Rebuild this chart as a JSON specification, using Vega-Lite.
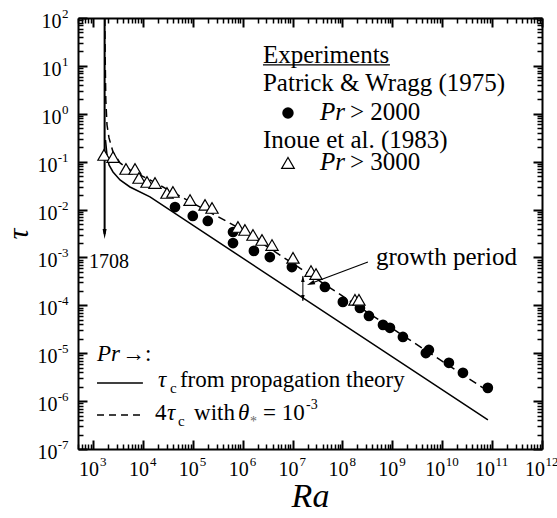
{
"$schema": "https://vega.github.io/schema/vega-lite/v6.json",
"width": 464, "height": 431,
"autosize": "none",
"padding": {"left": 78, "top": 18, "right": 15, "bottom": 69},
"background": "white",
"config": {"view": {"stroke": null}, "font": "Liberation Serif",
  "axis": {"grid": false, "tickColor": "black", "domainColor": "black", "labelColor": "black", "titleColor": "black", "labelFont": "Liberation Serif", "titleFont": "Liberation Serif", "titleFontWeight": "normal", "labelFlush": false, "labelOverlap": false, "labelBound": false}},
"resolve": {"axis": {"x": "independent", "y": "independent"}},
"layer": [
 {"data": {"values": [{"ra":1781,"tau":0.284},{"ra":1908,"tau":0.138},{"ra":2092,"tau":0.0853},{"ra":2517,"tau":0.061},{"ra":3475,"tau":0.0415},{"ra":5508,"tau":0.0296},{"ra":13870,"tau":0.01833},{"ra":82400000000,"tau":4.05e-7}]},
  "mark": {"type": "line", "color": "black", "strokeWidth": 1.5},
  "encoding": {
   "x": {"field": "ra", "type": "quantitative", "scale": {"type": "log", "domain": [500, 1e12], "nice": false},
     "axis": {"orient": "bottom", "values": [1e3,1e4,1e5,1e6,1e7,1e8,1e9,1e10,1e11,1e12], "tickSize": -9, "tickWidth": 2, "labels": false, "domain": true, "domainWidth": 2, "title": null}},
   "y": {"field": "tau", "type": "quantitative", "scale": {"type": "log", "domain": [1e-7, 100], "nice": false},
     "axis": {"orient": "left", "values": [1e-7,1e-6,1e-5,1e-4,1e-3,1e-2,1e-1,1,10,100], "tickSize": -9, "tickWidth": 2, "labels": false, "domain": true, "domainWidth": 2, "title": null}}
  }},
 {"data": {"values": [{"ra":1724,"tau":100},{"ra":1756,"tau":13.3},{"ra":1805,"tau":1.94},{"ra":1908,"tau":0.583},{"ra":2092,"tau":0.313},{"ra":2517,"tau":0.16},{"ra":3475,"tau":0.094},{"ra":5508,"tau":0.0671},{"ra":13870,"tau":0.0415},{"ra":769000,"tau":0.00433},{"ra":65500000000,"tau":1.89e-6}]},
  "mark": {"type": "line", "color": "black", "strokeWidth": 1.5, "strokeDash": [8, 5]},
  "encoding": {
   "x": {"field": "ra", "type": "quantitative", "scale": {"type": "log", "domain": [500, 1e12], "nice": false},
     "axis": {"orient": "top", "values": [1e3,1e4,1e5,1e6,1e7,1e8,1e9,1e10,1e11,1e12], "tickSize": -9, "tickWidth": 2, "labels": false, "domain": true, "domainWidth": 2, "title": null}},
   "y": {"field": "tau", "type": "quantitative", "scale": {"type": "log", "domain": [1e-7, 100], "nice": false},
     "axis": {"orient": "right", "values": [1e-7,1e-6,1e-5,1e-4,1e-3,1e-2,1e-1,1,10,100], "tickSize": -9, "tickWidth": 2, "labels": false, "domain": true, "domainWidth": 2, "title": null}}
  }},
 {"data": {"values": [{"ra":1708,"tau":100,"tau2":0.0031}]},
  "mark": {"type": "rule", "color": "black", "strokeWidth": 2},
  "encoding": {
   "x": {"field": "ra", "type": "quantitative", "scale": {"type": "log", "domain": [500, 1e12], "nice": false},
     "axis": {"orient": "bottom", "values": [500,600,700,800,900,2e3,3e3,4e3,5e3,6e3,7e3,8e3,9e3,2e4,3e4,4e4,5e4,6e4,7e4,8e4,9e4,2e5,3e5,4e5,5e5,6e5,7e5,8e5,9e5,2e6,3e6,4e6,5e6,6e6,7e6,8e6,9e6,2e7,3e7,4e7,5e7,6e7,7e7,8e7,9e7,2e8,3e8,4e8,5e8,6e8,7e8,8e8,9e8,2e9,3e9,4e9,5e9,6e9,7e9,8e9,9e9,2e10,3e10,4e10,5e10,6e10,7e10,8e10,9e10,2e11,3e11,4e11,5e11,6e11,7e11,8e11,9e11], "tickSize": -5, "tickWidth": 1.5, "labels": false, "domain": false, "title": null}},
   "y": {"field": "tau", "type": "quantitative", "scale": {"type": "log", "domain": [1e-7, 100], "nice": false},
     "axis": {"orient": "left", "values": [2e-7,3e-7,4e-7,5e-7,6e-7,7e-7,8e-7,9e-7,2e-6,3e-6,4e-6,5e-6,6e-6,7e-6,8e-6,9e-6,2e-5,3e-5,4e-5,5e-5,6e-5,7e-5,8e-5,9e-5,2e-4,3e-4,4e-4,5e-4,6e-4,7e-4,8e-4,9e-4,2e-3,3e-3,4e-3,5e-3,6e-3,7e-3,8e-3,9e-3,0.02,0.03,0.04,0.05,0.06,0.07,0.08,0.09,0.2,0.3,0.4,0.5,0.6,0.7,0.8,0.9,2,3,4,5,6,7,8,9,20,30,40,50,60,70,80,90], "tickSize": -5, "tickWidth": 1.5, "labels": false, "domain": false, "title": null}},
   "y2": {"field": "tau2"}
  }},
 {"data": {"values": [{"ra":44000,"tau":0.0113},{"ra":100000,"tau":0.00735},{"ra":200000,"tau":0.00578},{"ra":640000,"tau":0.0034},{"ra":640000,"tau":0.002},{"ra":1680000,"tau":0.00137},{"ra":3500000,"tau":0.00102},{"ra":9700000,"tau":0.00063},{"ra":44500000,"tau":0.000242},{"ra":102000000,"tau":0.000118},{"ra":224000000,"tau":0.000088},{"ra":340000000,"tau":0.00006},{"ra":650000000,"tau":0.000039},{"ra":895000000,"tau":0.000034},{"ra":1630000000,"tau":0.0000219},{"ra":4700000000,"tau":0.0000101},{"ra":5400000000,"tau":0.0000117},{"ra":13600000000,"tau":0.0000063},{"ra":26000000000,"tau":0.0000039},{"ra":82000000000,"tau":0.00000189}]},
  "mark": {"type": "point", "shape": "circle", "filled": true, "color": "black", "size": 115, "opacity": 1},
  "encoding": {
   "x": {"field": "ra", "type": "quantitative", "scale": {"type": "log", "domain": [500, 1e12], "nice": false},
     "axis": {"orient": "top", "values": [500,600,700,800,900,2e3,3e3,4e3,5e3,6e3,7e3,8e3,9e3,2e4,3e4,4e4,5e4,6e4,7e4,8e4,9e4,2e5,3e5,4e5,5e5,6e5,7e5,8e5,9e5,2e6,3e6,4e6,5e6,6e6,7e6,8e6,9e6,2e7,3e7,4e7,5e7,6e7,7e7,8e7,9e7,2e8,3e8,4e8,5e8,6e8,7e8,8e8,9e8,2e9,3e9,4e9,5e9,6e9,7e9,8e9,9e9,2e10,3e10,4e10,5e10,6e10,7e10,8e10,9e10,2e11,3e11,4e11,5e11,6e11,7e11,8e11,9e11], "tickSize": -5, "tickWidth": 1.5, "labels": false, "domain": false, "title": null}},
   "y": {"field": "tau", "type": "quantitative", "scale": {"type": "log", "domain": [1e-7, 100], "nice": false},
     "axis": {"orient": "right", "values": [2e-7,3e-7,4e-7,5e-7,6e-7,7e-7,8e-7,9e-7,2e-6,3e-6,4e-6,5e-6,6e-6,7e-6,8e-6,9e-6,2e-5,3e-5,4e-5,5e-5,6e-5,7e-5,8e-5,9e-5,2e-4,3e-4,4e-4,5e-4,6e-4,7e-4,8e-4,9e-4,2e-3,3e-3,4e-3,5e-3,6e-3,7e-3,8e-3,9e-3,0.02,0.03,0.04,0.05,0.06,0.07,0.08,0.09,0.2,0.3,0.4,0.5,0.6,0.7,0.8,0.9,2,3,4,5,6,7,8,9,20,30,40,50,60,70,80,90], "tickSize": -5, "tickWidth": 1.5, "labels": false, "domain": false, "title": null}}
  }},
 {"data": {"values": [{"ra":1660,"tau":0.138},{"ra":2518,"tau":0.125},{"ra":4580,"tau":0.0705},{"ra":6950,"tau":0.0705},{"ra":8360,"tau":0.0457},{"ra":12100,"tau":0.0377},{"ra":17500,"tau":0.0359},{"ra":30400,"tau":0.0222},{"ra":40000,"tau":0.0233},{"ra":88000,"tau":0.0158},{"ra":176000,"tau":0.0125},{"ra":243000,"tau":0.0108},{"ra":805000,"tau":0.00433},{"ra":1110000,"tau":0.00375},{"ra":1610000,"tau":0.00295},{"ra":2440000,"tau":0.00232},{"ra":3870000,"tau":0.00182},{"ra":10200000,"tau":0.00098},{"ra":23400000,"tau":0.00052},{"ra":29500000,"tau":0.00045},{"ra":178000000,"tau":0.00013},{"ra":214000000,"tau":0.00013}]},
  "mark": {"type": "point", "shape": "triangle-up", "filled": true, "fill": "white", "stroke": "black", "strokeWidth": 1.2, "size": 150, "opacity": 1},
  "encoding": {
   "x": {"field": "ra", "type": "quantitative", "scale": {"type": "log", "domain": [500, 1e12], "nice": false},
     "axis": {"orient": "bottom", "values": [1e3,1e4,1e5,1e6,1e7,1e8,1e9,1e10,1e11,1e12], "ticks": false, "domain": false, "labelExpr": "'10'", "labelFontSize": 20, "labelAlign": "center", "labelBaseline": "alphabetic", "labelPadding": 26, "labelOffset": {"condition": {"test": "datum.value >= 1e10", "value": -7.5}, "value": -4.5}, "title": "Ra", "titleFontStyle": "italic", "titleFontSize": 34, "titlePadding": 0}},
   "y": {"field": "tau", "type": "quantitative", "scale": {"type": "log", "domain": [1e-7, 100], "nice": false},
     "axis": {"orient": "left", "values": [1e-7,1e-6,1e-5,1e-4,1e-3,1e-2,1e-1,1,10,100], "ticks": false, "domain": false, "labelExpr": "'10'", "labelFontSize": 20, "labelAlign": "right", "labelBaseline": "alphabetic", "labelOffset": 9.5, "labelPadding": {"condition": {"test": "datum.value < 0.5", "value": 21}, "value": 17}, "title": "τ", "titleFontStyle": "italic", "titleFontSize": 30, "titlePadding": 4}}
  }},
 {"data": {"values": [{"ra":1708,"tau":0.0031}]},
  "mark": {"type": "point", "shape": "M-0.4,-1L0.4,-1L0,1Z", "filled": true, "color": "black", "size": 100, "opacity": 1},
  "encoding": {
   "x": {"field": "ra", "type": "quantitative", "scale": {"type": "log", "domain": [500, 1e12], "nice": false},
     "axis": {"orient": "bottom", "values": [1e3,1e4,1e5,1e6,1e7,1e8,1e9,1e10,1e11,1e12], "ticks": false, "domain": false, "labelExpr": "'' + round(log(datum.value)/LN10)", "labelFontSize": 13, "labelAlign": "left", "labelBaseline": "alphabetic", "labelPadding": 16, "labelOffset": {"condition": {"test": "datum.value >= 1e10", "value": 3}, "value": 6.5}, "title": null}},
   "y": {"field": "tau", "type": "quantitative", "scale": {"type": "log", "domain": [1e-7, 100], "nice": false},
     "axis": {"orient": "left", "values": [1e-7,1e-6,1e-5,1e-4,1e-3,1e-2,1e-1,1,10,100], "ticks": false, "domain": false, "labelExpr": "'' + round(log(datum.value)/LN10)", "labelFontSize": 13, "labelAlign": "right", "labelBaseline": "alphabetic", "labelOffset": -0.5, "labelPadding": 10, "title": null}}
  }},
 {"data": {"values": [{"ra":324000000,"tau":0.000805,"ra2":23100000,"tau2":0.000285}]},
  "mark": {"type": "rule", "color": "black", "strokeWidth": 1.2},
  "encoding": {
   "x": {"field": "ra", "type": "quantitative", "scale": {"type": "log", "domain": [500, 1e12], "nice": false}, "axis": null},
   "y": {"field": "tau", "type": "quantitative", "scale": {"type": "log", "domain": [1e-7, 100], "nice": false}, "axis": null},
   "x2": {"field": "ra2"}, "y2": {"field": "tau2"}
  }},
 {"data": {"values": [{"ra":23100000,"tau":0.000285}]},
  "mark": {"type": "point", "shape": "M-0.6,-1L0.6,-1L0,1Z", "filled": true, "color": "black", "size": 64, "angle": 69, "opacity": 1},
  "encoding": {
   "x": {"field": "ra", "type": "quantitative", "scale": {"type": "log", "domain": [500, 1e12], "nice": false}, "axis": null},
   "y": {"field": "tau", "type": "quantitative", "scale": {"type": "log", "domain": [1e-7, 100], "nice": false}, "axis": null}
  }},
 {"data": {"values": [{"ra":16100000,"tau":0.000411,"tau2":0.000124}]},
  "mark": {"type": "rule", "color": "black", "strokeWidth": 1},
  "encoding": {
   "x": {"field": "ra", "type": "quantitative", "scale": {"type": "log", "domain": [500, 1e12], "nice": false}, "axis": null},
   "y": {"field": "tau", "type": "quantitative", "scale": {"type": "log", "domain": [1e-7, 100], "nice": false}, "axis": null},
   "y2": {"field": "tau2"}
  }},
 {"data": {"values": [{"ra":16100000,"tau":0.000143}]},
  "mark": {"type": "point", "shape": "M-0.6,-1L0.6,-1L0,1Z", "filled": true, "color": "black", "size": 36, "opacity": 1},
  "encoding": {
   "x": {"field": "ra", "type": "quantitative", "scale": {"type": "log", "domain": [500, 1e12], "nice": false}, "axis": null},
   "y": {"field": "tau", "type": "quantitative", "scale": {"type": "log", "domain": [1e-7, 100], "nice": false}, "axis": null}
  }},
 {"data": {"values": [{"ra":16100000,"tau":0.000356}]},
  "mark": {"type": "point", "shape": "M-0.6,-1L0.6,-1L0,1Z", "filled": true, "color": "black", "size": 36, "angle": 180, "opacity": 1},
  "encoding": {
   "x": {"field": "ra", "type": "quantitative", "scale": {"type": "log", "domain": [500, 1e12], "nice": false}, "axis": null},
   "y": {"field": "tau", "type": "quantitative", "scale": {"type": "log", "domain": [1e-7, 100], "nice": false}, "axis": null}
  }},
 {"data": {"values": [{"ra":8090000,"tau":1.04}]},
  "mark": {"type": "point", "shape": "circle", "filled": true, "color": "black", "size": 130, "opacity": 1},
  "encoding": {
   "x": {"field": "ra", "type": "quantitative", "scale": {"type": "log", "domain": [500, 1e12], "nice": false}, "axis": null},
   "y": {"field": "tau", "type": "quantitative", "scale": {"type": "log", "domain": [1e-7, 100], "nice": false}, "axis": null}
  }},
 {"data": {"values": [{"ra":8090000,"tau":0.094}]},
  "mark": {"type": "point", "shape": "triangle-up", "filled": true, "fill": "white", "stroke": "black", "strokeWidth": 1.2, "size": 160, "opacity": 1},
  "encoding": {
   "x": {"field": "ra", "type": "quantitative", "scale": {"type": "log", "domain": [500, 1e12], "nice": false}, "axis": null},
   "y": {"field": "tau", "type": "quantitative", "scale": {"type": "log", "domain": [1e-7, 100], "nice": false}, "axis": null}
  }},
 {"data": {"values": [{"ra":2550000,"ra2":895000000,"tau":10.45}]},
  "mark": {"type": "rule", "color": "black", "strokeWidth": 1.3},
  "encoding": {
   "x": {"field": "ra", "type": "quantitative", "scale": {"type": "log", "domain": [500, 1e12], "nice": false}, "axis": null},
   "y": {"field": "tau", "type": "quantitative", "scale": {"type": "log", "domain": [1e-7, 100], "nice": false}, "axis": null},
   "x2": {"field": "ra2"}
  }},
 {"data": {"values": [{"ra":1203,"ra2":10000,"tau":2.4e-6}]},
  "mark": {"type": "rule", "color": "black", "strokeWidth": 1.5},
  "encoding": {
   "x": {"field": "ra", "type": "quantitative", "scale": {"type": "log", "domain": [500, 1e12], "nice": false}, "axis": null},
   "y": {"field": "tau", "type": "quantitative", "scale": {"type": "log", "domain": [1e-7, 100], "nice": false}, "axis": null},
   "x2": {"field": "ra2"}
  }},
 {"data": {"values": [{"ra":1203,"ra2":10000,"tau":5.15e-7}]},
  "mark": {"type": "rule", "color": "black", "strokeWidth": 1.5, "strokeDash": [7, 5]},
  "encoding": {
   "x": {"field": "ra", "type": "quantitative", "scale": {"type": "log", "domain": [500, 1e12], "nice": false}, "axis": null},
   "y": {"field": "tau", "type": "quantitative", "scale": {"type": "log", "domain": [1e-7, 100], "nice": false}, "axis": null},
   "x2": {"field": "ra2"}
  }},
 {"data": {"values": [{"ra":2550000,"tau":11.5,"label":"Experiments"},{"ra":2550000,"tau":3.03,"label":"Patrick & Wragg (1975)"},{"ra":141000000,"tau":0.742,"label":"> 2000"},{"ra":2550000,"tau":0.193,"label":"Inoue et al. (1983)"},{"ra":141000000,"tau":0.0671,"label":"> 3000"},{"ra":469000000,"tau":0.000697,"label":"growth period"}]},
  "mark": {"type": "text", "align": "left", "baseline": "alphabetic", "font": "Liberation Serif", "fontSize": 25, "color": "black"},
  "encoding": {
   "x": {"field": "ra", "type": "quantitative", "scale": {"type": "log", "domain": [500, 1e12], "nice": false}, "axis": null},
   "y": {"field": "tau", "type": "quantitative", "scale": {"type": "log", "domain": [1e-7, 100], "nice": false}, "axis": null},
   "text": {"field": "label"}
  }},
 {"data": {"values": [{"ra":35400000,"tau":0.742,"label":"Pr"},{"ra":35400000,"tau":0.0671,"label":"Pr"}]},
  "mark": {"type": "text", "align": "left", "baseline": "alphabetic", "font": "Liberation Serif", "fontStyle": "italic", "fontSize": 25, "color": "black"},
  "encoding": {
   "x": {"field": "ra", "type": "quantitative", "scale": {"type": "log", "domain": [500, 1e12], "nice": false}, "axis": null},
   "y": {"field": "tau", "type": "quantitative", "scale": {"type": "log", "domain": [1e-7, 100], "nice": false}, "axis": null},
   "text": {"field": "label"}
  }},
 {"data": {"values": [{"ra":3811,"tau":6.9e-6,"label":"→:"},{"ra":55300,"tau":1.98e-6,"label":"from propagation theory"},{"ra":17500,"tau":4.05e-7,"label":"4"},{"ra":106000,"tau":4.05e-7,"label":"with"},{"ra":2550000,"tau":4.05e-7,"label":"= 10"}]},
  "mark": {"type": "text", "align": "left", "baseline": "alphabetic", "font": "Liberation Serif", "fontSize": 23, "color": "black"},
  "encoding": {
   "x": {"field": "ra", "type": "quantitative", "scale": {"type": "log", "domain": [500, 1e12], "nice": false}, "axis": null},
   "y": {"field": "tau", "type": "quantitative", "scale": {"type": "log", "domain": [1e-7, 100], "nice": false}, "axis": null},
   "text": {"field": "label"}
  }},
 {"data": {"values": [{"ra":1203,"tau":6.9e-6,"label":"Pr"},{"ra":20100,"tau":1.98e-6,"label":"τ"},{"ra":30400,"tau":4.05e-7,"label":"τ"},{"ra":805000,"tau":4.05e-7,"label":"θ"}]},
  "mark": {"type": "text", "align": "left", "baseline": "alphabetic", "font": "Liberation Serif", "fontStyle": "italic", "fontSize": 23, "color": "black"},
  "encoding": {
   "x": {"field": "ra", "type": "quantitative", "scale": {"type": "log", "domain": [500, 1e12], "nice": false}, "axis": null},
   "y": {"field": "tau", "type": "quantitative", "scale": {"type": "log", "domain": [1e-7, 100], "nice": false}, "axis": null},
   "text": {"field": "label"}
  }},
 {"data": {"values": [{"ra":34900,"tau":1.48e-6,"label":"c"},{"ra":50500,"tau":3.03e-7,"label":"c"}]},
  "mark": {"type": "text", "align": "left", "baseline": "alphabetic", "font": "Liberation Serif", "fontSize": 15, "color": "black"},
  "encoding": {
   "x": {"field": "ra", "type": "quantitative", "scale": {"type": "log", "domain": [500, 1e12], "nice": false}, "axis": null},
   "y": {"field": "tau", "type": "quantitative", "scale": {"type": "log", "domain": [1e-7, 100], "nice": false}, "axis": null},
   "text": {"field": "label"}
  }},
 {"data": {"values": [{"ra":1400000,"tau":3.03e-7,"label":"*"}]},
  "mark": {"type": "text", "align": "left", "baseline": "alphabetic", "font": "Liberation Serif", "fontSize": 14, "color": "#666666"},
  "encoding": {
   "x": {"field": "ra", "type": "quantitative", "scale": {"type": "log", "domain": [500, 1e12], "nice": false}, "axis": null},
   "y": {"field": "tau", "type": "quantitative", "scale": {"type": "log", "domain": [1e-7, 100], "nice": false}, "axis": null},
   "text": {"field": "label"}
  }},
 {"data": {"values": [{"ra":18600000,"tau":6.7e-7,"label":"-3"}]},
  "mark": {"type": "text", "align": "left", "baseline": "alphabetic", "font": "Liberation Serif", "fontSize": 14, "color": "black"},
  "encoding": {
   "x": {"field": "ra", "type": "quantitative", "scale": {"type": "log", "domain": [500, 1e12], "nice": false}, "axis": null},
   "y": {"field": "tau", "type": "quantitative", "scale": {"type": "log", "domain": [1e-7, 100], "nice": false}, "axis": null},
   "text": {"field": "label"}
  }},
 {"data": {"values": [{"ra":832,"tau":0.000604,"label":"1708"}]},
  "mark": {"type": "text", "align": "left", "baseline": "alphabetic", "font": "Liberation Serif", "fontSize": 20, "color": "black"},
  "encoding": {
   "x": {"field": "ra", "type": "quantitative", "scale": {"type": "log", "domain": [500, 1e12], "nice": false}, "axis": null},
   "y": {"field": "tau", "type": "quantitative", "scale": {"type": "log", "domain": [1e-7, 100], "nice": false}, "axis": null},
   "text": {"field": "label"}
  }}
]
}
